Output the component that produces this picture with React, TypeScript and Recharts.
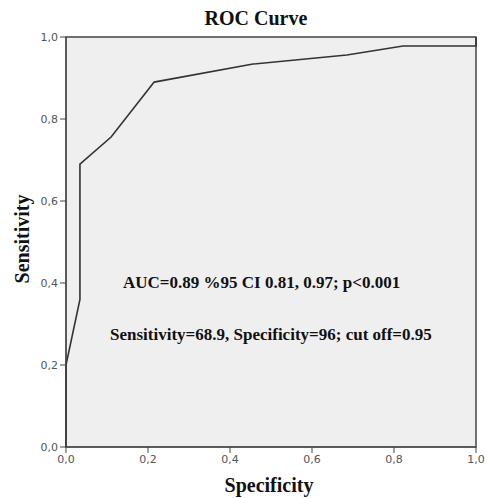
import React from 'react';
import { LineChart, Line, XAxis, YAxis, ReferenceArea } from 'recharts';

// ROC points (1 - specificity on x, sensitivity on y)
const fpr = [0, 0, 0.034, 0.034, 0.11, 0.215, 0.456, 0.685, 0.822, 1.0, 1.0];
const tpr = [0, 0.2, 0.36, 0.69, 0.756, 0.89, 0.934, 0.956, 0.978, 0.978, 1.0];
const ticks = [0, 0.2, 0.4, 0.6, 0.8, 1.0];

const title = 'ROC Curve';
const xTitle = 'Specificity';
const yTitle = 'Sensitivity';
const note1 = 'AUC=0.89 %95 CI 0.81, 0.97; p<0.001';
const note2 = 'Sensitivity=68.9, Specificity=96; cut off=0.95';

const data = fpr.map((x, i) => ({ x, y: tpr[i] }));

const fmt = (v: number) => v.toFixed(1).replace('.', ',');
const serif = '"Liberation Serif", "Times New Roman", serif';
const tickStyle = { fontSize: 11, fill: '#555', fontFamily: '"DejaVu Sans", Arial, sans-serif' };

export default function App() {
  return (
    <div style={{ position: 'absolute', left: 0, top: 0, width: 489, height: 498, background: '#fff' }}>
      <div
        style={{
          position: 'absolute', top: 7, left: 0, width: 512, textAlign: 'center',
          fontFamily: serif, fontWeight: 'bold', fontSize: 20, color: '#111',
        }}
      >
        {title}
      </div>
      <LineChart width={489} height={498} data={data} margin={{ top: 37, right: 13, left: 0, bottom: 21 }}>
        <ReferenceArea x1={0} x2={1} y1={0} y2={1} fill="#efefef" fillOpacity={1} stroke="#444" strokeWidth={1.5} />
        <XAxis
          dataKey="x"
          type="number"
          domain={[0, 1]}
          ticks={ticks}
          tickFormatter={fmt}
          tick={tickStyle}
          stroke="#444"
          tickLine={{ stroke: '#444' }}
          tickSize={6}
          height={30}
        />
        <YAxis
          dataKey="y"
          type="number"
          domain={[0, 1]}
          ticks={ticks}
          tickFormatter={fmt}
          tick={tickStyle}
          stroke="#444"
          tickLine={{ stroke: '#444' }}
          tickSize={6}
          width={66}
        />
        <Line
          type="linear"
          dataKey="y"
          stroke="#333"
          strokeWidth={1.6}
          dot={false}
          isAnimationActive={false}
        />
      </LineChart>
      <div
        style={{
          position: 'absolute', left: 22, top: 239, transform: 'translate(-50%, -50%) rotate(-90deg)',
          fontFamily: serif, fontWeight: 'bold', fontSize: 20, color: '#111', whiteSpace: 'nowrap',
        }}
      >
        {yTitle}
      </div>
      <div
        style={{
          position: 'absolute', left: 0, width: 538, top: 474, textAlign: 'center',
          fontFamily: serif, fontWeight: 'bold', fontSize: 20, color: '#111',
        }}
      >
        {xTitle}
      </div>
      <div
        style={{
          position: 'absolute', left: 123, top: 273, fontFamily: serif, fontWeight: 'bold',
          fontSize: 17, color: '#111', whiteSpace: 'nowrap',
        }}
      >
        {note1}
      </div>
      <div
        style={{
          position: 'absolute', left: 110, top: 325, fontFamily: serif, fontWeight: 'bold',
          fontSize: 17, color: '#111', whiteSpace: 'nowrap',
        }}
      >
        {note2}
      </div>
    </div>
  );
}
